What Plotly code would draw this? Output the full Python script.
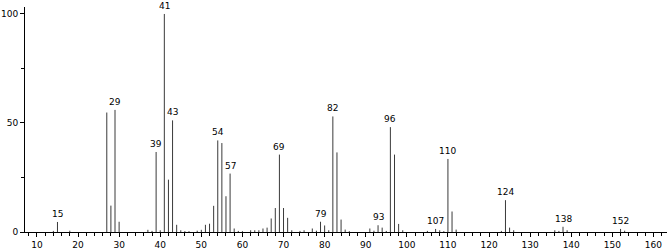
import plotly.graph_objects as go

mz = [14, 15, 18, 27, 28, 29, 30, 37, 38, 39, 40, 41, 42, 43, 44, 45, 46, 47, 49, 50,
      51, 52, 53, 54, 55, 56, 57, 58, 59, 60, 62, 63, 64, 65, 66, 67, 68, 69, 70, 71,
      72, 74, 75, 77, 78, 79, 80, 81, 82, 83, 84, 85, 86, 91, 92, 93, 94, 95, 96, 97,
      98, 99, 105, 107, 108, 109, 110, 111, 112, 123, 124, 125, 126, 136, 137, 138, 139,
      152, 153]
intensity = [0.5, 4.6, 0.6, 54.8, 12.1, 56.0, 4.7, 1.0, 0.5, 36.7, 0.8, 100.0, 24.0, 51.2, 3.3, 0.8, 0.4, 0.4, 0.6, 1.0,
             3.3, 3.8, 12.0, 42.0, 40.8, 16.4, 26.8, 1.6, 0.5, 0.4, 0.8, 0.8, 0.8, 1.6, 2.0, 6.2, 11.0, 35.5, 11.0, 6.5,
             0.8, 0.5, 0.8, 1.6, 0.6, 4.7, 3.0, 0.8, 53.0, 36.5, 5.7, 1.1, 0.4, 1.6, 0.6, 3.1, 2.0, 0.5, 48.1, 35.5,
             3.7, 0.8, 0.5, 1.4, 0.8, 0.4, 33.5, 9.4, 1.1, 0.5, 14.6, 2.0, 0.8, 0.8, 0.5, 2.4, 0.8,
             1.4, 0.6]
labeled_peaks = [15, 29, 39, 41, 43, 54, 57, 69, 79, 82, 93, 96, 107, 110, 124, 138, 152]
x_ticks = [10, 20, 30, 40, 50, 60, 70, 80, 90, 100, 110, 120, 130, 140, 150, 160]
y_ticks = [0, 50, 100]

xs, ys = [], []
for m, v in zip(mz, intensity):
    xs += [m, m, None]
    ys += [0, v, None]

fig = go.Figure()
fig.add_trace(go.Scatter(x=xs, y=ys, mode="lines",
                         line=dict(color="#3a3a3a", width=1), hoverinfo="skip",
                         showlegend=False))

lookup = dict(zip(mz, intensity))
for m in labeled_peaks:
    fig.add_annotation(x=m, y=lookup[m], text=str(m), showarrow=False,
                       yanchor="bottom", xanchor="center", yshift=1,
                       font=dict(family="DejaVu Sans", size=9, color="black"))

fig.update_layout(
    width=667, height=249,
    margin=dict(l=25, r=0, t=7, b=17),
    paper_bgcolor="white", plot_bgcolor="white",
    font=dict(family="DejaVu Sans", size=9, color="black"),
    showlegend=False,
)
fig.update_xaxes(range=[7.1, 163.3], showline=True, linecolor="black", linewidth=1,
                 tickvals=x_ticks, ticks="outside", ticklen=4, tickcolor="black",
                 minor=dict(dtick=2, tick0=0, ticks="outside", ticklen=3, tickcolor="black"),
                 showgrid=False, zeroline=False, tickfont=dict(size=9))
fig.update_yaxes(range=[0, 103.2], showline=True, linecolor="black", linewidth=1,
                 tickvals=y_ticks, ticks="outside", ticklen=4, tickcolor="black",
                 minor=dict(dtick=25, tick0=0, ticks="outside", ticklen=3, tickcolor="black"),
                 showgrid=False, zeroline=False, tickfont=dict(size=9))

fig.write_html("out.html")
